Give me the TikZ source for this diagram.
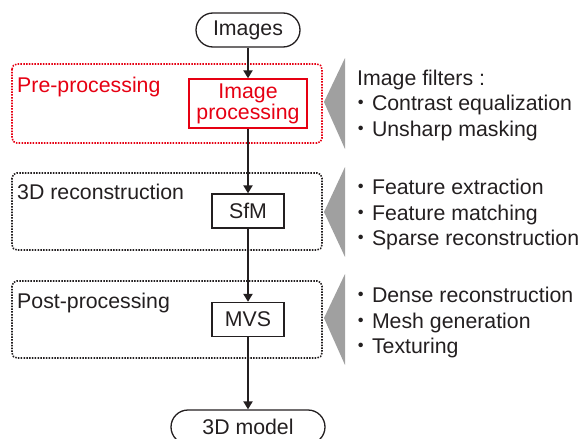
\documentclass[tikz,border=0pt]{standalone}
\usepackage{fontspec}
\setmainfont{Liberation Sans}
\newfontfamily\cjk{Noto Sans CJK JP}
\usetikzlibrary{arrows.meta,shapes.misc}
\definecolor{myred}{RGB}{230,0,18}
\definecolor{myblack}{RGB}{35,31,32}
\definecolor{mygray}{RGB}{160,160,160}
\newcommand{\bul}{{\cjk ・}}
\begin{document}
\begin{tikzpicture}[x=1pt,y=-1pt,
  every node/.style={font=\fontsize{21.3}{19.5}\selectfont, text=myblack},
  term/.style={draw=myblack, line width=1.3pt, rounded rectangle, minimum width=104pt, minimum height=34pt, inner sep=0pt},
  procbox/.style={draw=myblack, line width=1.3pt, rectangle, minimum width=72pt, minimum height=34pt, inner sep=0pt},
  grp/.style={line width=1.6pt, dash pattern=on 1.5pt off 1.3pt, rounded corners=5pt},
  arr/.style={draw=myblack, line width=2pt, -{Triangle[length=8pt,width=9pt]}},
  lbl/.style={anchor=base west, inner sep=0pt},
  item/.style={anchor=base west, inner sep=0pt}
]
\useasboundingbox (0,0) rectangle (581,439);
% group boxes
\draw[grp, draw=myred] (12,64) rectangle (322,143);
\draw[grp, draw=myblack] (12,173) rectangle (322,250);
\draw[grp, draw=myblack] (12,281) rectangle (322,358);
% gray pointers
\fill[mygray] (345,58) -- (324,102) -- (345,149) -- cycle;
\fill[mygray] (345,167) -- (324,212) -- (345,257) -- cycle;
\fill[mygray] (345,274) -- (324,318) -- (345,365) -- cycle;
% main nodes
\node[term] (img) at (248,30) {Images};
\node[draw=myred, line width=1.3pt, minimum width=118pt, minimum height=49pt, inner sep=0pt, align=center, text=myred] (ip) at (248,103.5) {Image\\processing};
\node[procbox] (sfm) at (248,211) {SfM};
\node[procbox] (mvs) at (248,319.5) {MVS};
\node[term, minimum width=154pt] (model) at (248,427) {3D model};
% connectors
\draw[arr] (img.south) -- (ip.north);
\draw[arr] (ip.south) -- (sfm.north);
\draw[arr] (sfm.south) -- (mvs.north);
\draw[arr] (mvs.south) -- (model.north);
% group labels
\node[lbl, text=myred] (lpre) at (17,92) {Pre-processing};
\node[lbl] (lrec) at (17,199) {3D reconstruction};
\node[lbl] (lpost) at (17,308) {Post-processing};
% item lists
\node[item] (a0) at (357,85) {Image filters :};
\node[item] (a1) at (350.5,110.5) {\bul Contrast equalization};
\node[item] (a2) at (350.5,136) {\bul Unsharp masking};
\node[item] (b1) at (350.5,194) {\bul Feature extraction};
\node[item] (b2) at (350.5,220) {\bul Feature matching};
\node[item] (b3) at (350.5,245) {\bul Sparse reconstruction};
\node[item] (c1) at (350.5,302) {\bul Dense reconstruction};
\node[item] (c2) at (350.5,328) {\bul Mesh generation};
\node[item] (c3) at (350.5,353) {\bul Texturing};
\end{tikzpicture}
\end{document}
